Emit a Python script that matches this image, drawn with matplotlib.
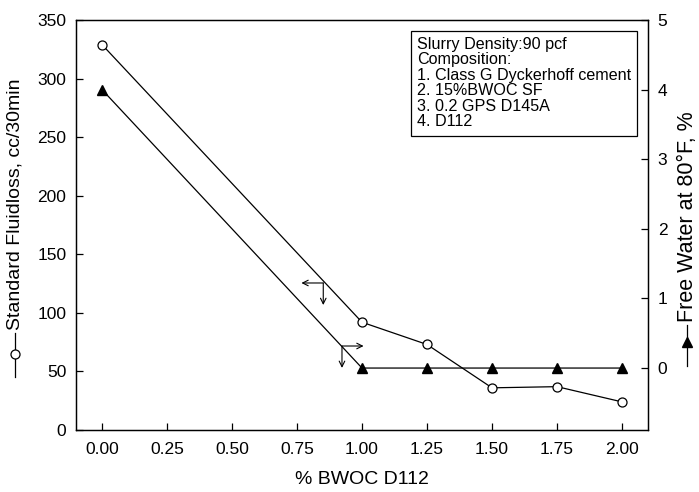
import matplotlib
matplotlib.use('Agg')
import matplotlib.pyplot as plt
from matplotlib.lines import Line2D

plt.rcParams['font.family'] = ['Liberation Sans', 'DejaVu Sans']

# data
bwoc = [0.0, 1.0, 1.25, 1.5, 1.75, 2.0]
fluidloss = [329, 92, 73, 36, 37, 24]
free_water = [4.0, 0, 0, 0, 0, 0]
xticks = [0.0, 0.25, 0.5, 0.75, 1.0, 1.25, 1.5, 1.75, 2.0]
note = ("Slurry Density:90 pcf\nComposition:\n1. Class G Dyckerhoff cement\n"
        "2. 15%BWOC SF\n3. 0.2 GPS D145A\n4. D112")

W, H = 699, 492
fig = plt.figure(figsize=(W / 100, H / 100), dpi=100)
ax = fig.add_axes([76 / W, 1 - 430 / H, 572 / W, 410 / H])
ax2 = ax.twinx()

lw = 0.9
ax.plot(bwoc, fluidloss, color='black', lw=lw, marker='o', mfc='white',
        mec='black', ms=6.5, mew=lw, zorder=3)
ax2.plot(bwoc, free_water, color='black', lw=lw, marker='^', mfc='black',
         mec='black', ms=7.5, zorder=3)

ax.set_xlim(-0.1, 2.1)
ax.set_ylim(0, 350)
ax2.set_ylim(-0.89, 5)
ax.set_xticks(xticks)
ax.set_xticklabels(['%.2f' % v for v in xticks])
ax.set_yticks(range(0, 351, 50))
ax2.set_yticks(range(0, 6))

for a in (ax, ax2):
    a.tick_params(direction='in', length=5, width=lw, labelsize=12.5, pad=7)
    for s in a.spines.values():
        s.set_linewidth(lw)
ax.tick_params(axis='x', pad=9)

ax.set_xlabel('% BWOC D112', fontsize=14, labelpad=10)

# arrows pointing at the axis each curve belongs to
arr = dict(arrowstyle='->', color='black', lw=0.8, shrinkA=0, shrinkB=0)
ax.annotate('', xy=(0.767, 125.5), xytext=(0.851, 125.5), arrowprops=arr)
ax.annotate('', xy=(0.851, 106.7), xytext=(0.851, 125.5), arrowprops=arr)
ax.annotate('', xy=(1.006, 71.7), xytext=(0.923, 71.7), arrowprops=arr)
ax.annotate('', xy=(0.923, 53), xytext=(0.923, 71.7), arrowprops=arr)

ax.text(0.596, 0.9585, note, transform=ax.transAxes, ha='left', va='top',
        fontsize=11.6, linespacing=1.04,
        bbox=dict(boxstyle='square,pad=0.38', fc='white', ec='black', lw=lw))

# axis titles with their symbol keys
fig.text(15 / W, 1 - 330 / H, 'Standard Fluidloss, cc/30min', rotation=90,
         ha='center', va='bottom', fontsize=14)
fig.add_artist(Line2D([15 / W, 15 / W], [1 - 333 / H, 1 - 377 / H],
                      transform=fig.transFigure, color='black', lw=lw))
fig.add_artist(Line2D([15 / W], [1 - 354 / H], transform=fig.transFigure,
                      marker='o', mfc='white', mec='black', ms=6.5, mew=lw))

fig.text(687 / W, 1 - 322 / H, 'Free Water at 80°F, %', rotation=90,
         ha='center', va='bottom', fontsize=15.5)
fig.add_artist(Line2D([687 / W, 687 / W], [1 - 325 / H, 1 - 366 / H],
                      transform=fig.transFigure, color='black', lw=lw))
fig.add_artist(Line2D([687 / W], [1 - 342 / H], transform=fig.transFigure,
                      marker='^', mfc='black', mec='black', ms=7.5))

fig.savefig('out.png', dpi=100)
